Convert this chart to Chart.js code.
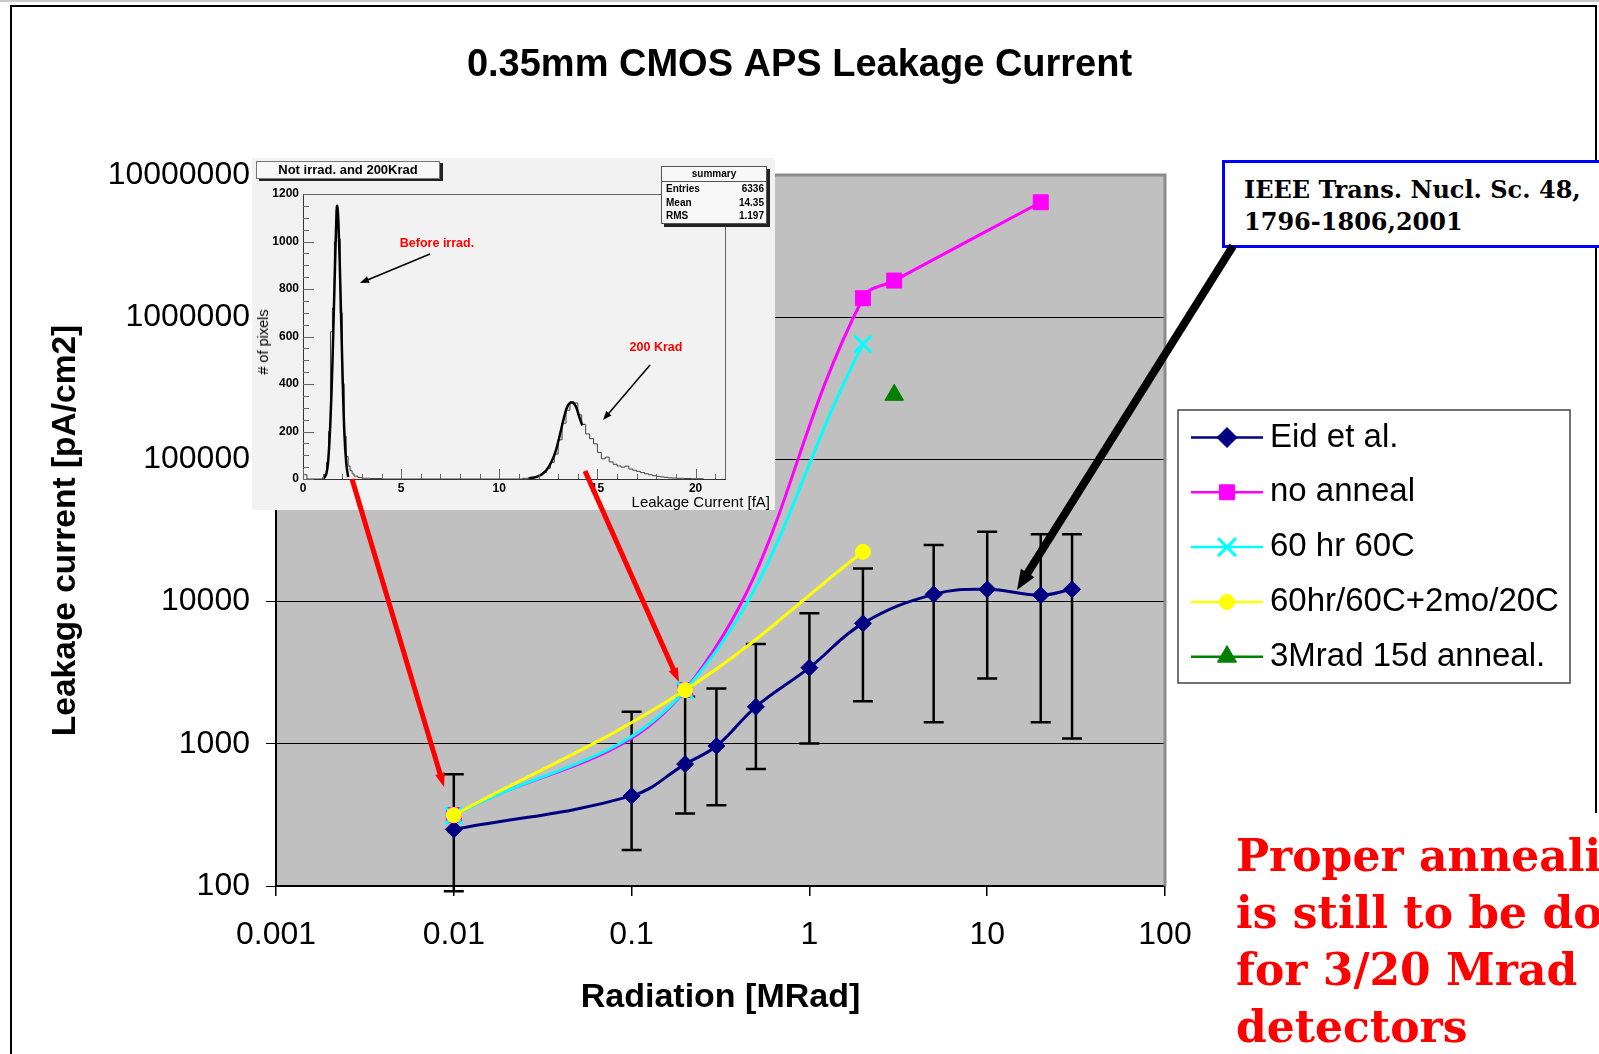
<!DOCTYPE html>
<html>
<head>
<meta charset="utf-8">
<title>0.35mm CMOS APS Leakage Current</title>
<script src="https://cdn.jsdelivr.net/npm/chart.js@4.4.1/dist/chart.umd.min.js"></script>
<style>
  html, body { margin: 0; padding: 0; background: #fff; overflow: hidden; }
  #page { position: relative; width: 1599px; height: 1054px; overflow: hidden; font-family: 'Liberation Sans', Arial, sans-serif; }
  #main { position: absolute; left: 0; top: 0; }
  #topRule { position: absolute; left: 0; top: 0; width: 1599px; height: 2px; background: #c8c8c8; }
  #frame { position: absolute; left: 10px; top: 5px; width: 1585px; height: 806px; border-top: 2px solid #000; border-right: 2px solid #000; }
  #frameLeft { position: absolute; left: 10px; top: 5px; width: 2px; height: 1049px; background: #000; }

  /* inset histogram */
  #inset { position: absolute; left: 252px; top: 158px; width: 523px; height: 352px; background: #f2f2f2; }
  #histo { position: absolute; left: 0; top: 0; }
  #histTitle { position: absolute; left: 4px; top: 3px; width: 184px; height: 18px; box-sizing: border-box; border: 1px solid #777; background: #f8f8f8; box-shadow: 3px 2px 0 #222; font: bold 13px 'Liberation Sans', Arial, sans-serif; line-height: 16px; text-align: center; }
  #stats { position: absolute; left: 409px; top: 8px; width: 106px; height: 58px; box-sizing: border-box; border: 1px solid #555; background: #f8f8f8; box-shadow: 3px 3px 0 #222; font: bold 10px 'Liberation Sans', Arial, sans-serif; }
  #stats .hd { height: 14px; line-height: 14px; text-align: center; border-bottom: 1px solid #555; }
  #stats .row { height: 13.5px; line-height: 13.5px; padding: 0 2px 0 4px; display: flex; justify-content: space-between; }
  .redlab { position: absolute; color: #ff0000; font: bold 12.5px 'Liberation Sans', Arial, sans-serif; white-space: nowrap; transform: translate(-50%, -50%); }
  #histXTitle { position: absolute; right: 5px; top: 335px; font: 15px 'Liberation Sans', Arial, sans-serif; white-space: nowrap; }
  #histYTitle { position: absolute; left: 11px; top: 184px; font: 14.5px 'Liberation Sans', Arial, sans-serif; white-space: nowrap; transform: translate(-50%, -50%) rotate(-90deg); }

  /* annotations */
  #ref { position: absolute; left: 1222px; top: 160px; width: 400px; height: 88px; box-sizing: border-box; border: 3px solid #0000ff; background: #fff; padding: 11px 0 0 19px; font: bold 24px 'DejaVu Serif', serif; line-height: 32px; color: #000; white-space: nowrap; }
  #note { position: absolute; left: 1236px; top: 827px; font: bold 44px 'DejaVu Serif', serif; line-height: 57px; color: #ff0000; white-space: nowrap; }
  #arrows { position: absolute; left: 0; top: 0; pointer-events: none; }
</style>
</head>
<body>
<div id="page">
  <div id="topRule"></div>
  <div id="frame"></div>
  <div id="frameLeft"></div>
  <canvas id="main" width="1599" height="1054"></canvas>

  <div id="inset">
    <canvas id="histo" width="523" height="352"></canvas>
    <div id="histTitle">Not irrad. and 200Krad</div>
    <div id="stats">
      <div class="hd">summary</div>
      <div class="row"><span>Entries</span><span>6336</span></div>
      <div class="row"><span>Mean</span><span>14.35</span></div>
      <div class="row"><span>RMS</span><span>1.197</span></div>
    </div>
    <div class="redlab" style="left:185px; top:85px;">Before irrad.</div>
    <div class="redlab" style="left:404px; top:189px;">200 Krad</div>
    <div id="histXTitle">Leakage Current [fA]</div>
    <div id="histYTitle"># of pixels</div>
  </div>

  <div id="ref">IEEE Trans. Nucl. Sc. 48,<br>1796-1806,2001</div>
  <div id="note">Proper annealing<br>is still to be done<br>for 3/20 Mrad<br>detectors</div>

  <svg id="arrows" width="1599" height="1054"></svg>
</div>

<script>
//DATOS - main chart
const xTicks = [0.001, 0.01, 0.1, 1, 10, 100];
const yTicks = [100, 1000, 10000, 100000, 1000000, 10000000];

const doseEid = [0.01, 0.1, 0.2, 0.3, 0.5, 1, 2, 5, 10, 20, 30];
const leakEid = [250, 430, 720, 965, 1820, 3430, 7030, 11250, 12200, 11100, 12200];
const errHiEid = [610, 1680, 2140, 2450, 5030, 8270, 17100, 25000, 31000, 29700, 29700];
const errLoEid = [92, 179, 324, 369, 665, 1005, 1990, 1420, 2880, 1420, 1090];

const doseNoAnneal = [0.01, 0.2, 2, 3, 20];
const leakNoAnneal = [315, 2390, 1360000, 1810000, 6430000];

const dose60C = [0.01, 0.2, 2];
const leak60C = [312, 2380, 647000];

const dose2mo = [0.01, 0.2, 2];
const leak2mo = [315, 2387, 22400];

const dose15d = [3];
const leak15d = [284000];

//DATOS - inset histogram
const histXTickVals = [0, 5, 10, 15, 20];
const histYTickVals = [0, 200, 400, 600, 800, 1000, 1200];
const histEdges = [0, 0.2, 1.0, 1.1, 1.2, 1.3, 1.4, 1.5, 1.6, 1.7, 1.8, 1.9, 2.0, 2.1, 2.2, 2.3, 2.4, 2.5, 2.6, 2.8, 3.0, 3.4, 4.0,
  11.2, 11.6, 11.8, 12.0, 12.2, 12.4, 12.6, 12.8, 13.0, 13.2, 13.4, 13.6, 13.8, 14.0, 14.2, 14.4, 14.6, 14.8, 15.0, 15.2, 15.4,
  15.6, 15.8, 16.0, 16.2, 16.4, 16.6, 16.8, 17.0, 17.2, 17.4, 17.6, 17.8, 18.0, 18.2, 18.4, 18.6, 18.8, 19.0, 19.4, 19.8, 20.4];
const histCounts = [18, 0, 6, 20, 70, 200, 620, 720, 1000, 1130, 1010, 700, 400, 180, 95, 55, 35, 22, 12, 6, 3, 2, 0,
  3, 6, 10, 16, 27, 45, 70, 105, 165, 235, 290, 325, 320, 270, 230, 190, 170, 148, 112, 85, 92,
  72, 62, 55, 50, 54, 42, 37, 32, 27, 22, 18, 14, 11, 9, 7, 5, 4, 3, 2, 1, 0];
const fitBeforeX = [1.05, 1.2, 1.3, 1.4, 1.5, 1.6, 1.7, 1.74, 1.8, 1.9, 2.0, 2.1, 2.2, 2.3];
const fitBeforeY = [0, 25, 95, 250, 490, 800, 1100, 1150, 1090, 820, 490, 210, 70, 8];
const fitAfterX = [11.5, 12.0, 12.4, 12.7, 12.9, 13.1, 13.3, 13.5, 13.72, 13.9, 14.1, 14.23];
const fitAfterY = [2, 12, 37, 80, 125, 190, 260, 310, 322, 305, 255, 226];

function puntos(xs, ys) {
  return xs.map((x, i) => ({ x: x, y: ys[i] }));
}

Chart.defaults.font.family = "'Liberation Sans', Arial, sans-serif";
Chart.defaults.color = "#000";

//PLUGINS
const plotFrame = {
  id: "plotFrame",
  beforeDraw(chart) {
    const { ctx, chartArea: a } = chart;
    ctx.save();
    ctx.fillStyle = "#c0c0c0";
    ctx.fillRect(a.left, a.top, a.right - a.left, a.bottom - a.top);
    ctx.restore();
  },
  beforeDatasetsDraw(chart) {
    const { ctx, chartArea: a } = chart;
    ctx.save();
    ctx.strokeStyle = "#8c8c8c";
    ctx.lineWidth = 3;
    ctx.beginPath();
    ctx.moveTo(a.left, a.top);
    ctx.lineTo(a.right, a.top);
    ctx.lineTo(a.right, a.bottom);
    ctx.stroke();
    ctx.restore();
  },
};

// barras de error de Eid et al. (debajo de los marcadores)
const errorBars = {
  id: "errorBars",
  beforeDatasetDraw(chart, args) {
    if (args.index !== 0) return;
    const { ctx, scales } = chart;
    ctx.save();
    ctx.strokeStyle = "#000";
    ctx.lineWidth = 2.5;
    doseEid.forEach((d, i) => {
      const px = scales.x.getPixelForValue(d);
      const yt = scales.y.getPixelForValue(errHiEid[i]);
      const yb = scales.y.getPixelForValue(errLoEid[i]);
      ctx.beginPath();
      ctx.moveTo(px, yt);
      ctx.lineTo(px, yb);
      ctx.moveTo(px - 10, yt);
      ctx.lineTo(px + 10, yt);
      ctx.moveTo(px - 10, yb);
      ctx.lineTo(px + 10, yb);
      ctx.stroke();
    });
    ctx.restore();
  },
};

// leyenda estilo Excel (linea + marcador)
const legendRadius = [10, 10.6, 12.7, 7.5, 11];
const excelLegend = {
  id: "excelLegend",
  afterDraw(chart) {
    const ctx = chart.ctx;
    ctx.save();
    ctx.fillStyle = "#fff";
    ctx.fillRect(1178, 410, 392, 273);
    ctx.strokeStyle = "#444";
    ctx.lineWidth = 1.5;
    ctx.strokeRect(1178, 410, 392, 273);
    chart.data.datasets.forEach((ds, i) => {
      const cy = 437.5 + i * 54.8;
      ctx.strokeStyle = ds.borderColor;
      ctx.lineWidth = 2.5;
      ctx.beginPath();
      ctx.moveTo(1191, cy);
      ctx.lineTo(1263, cy);
      ctx.stroke();
      ctx.fillStyle = ds.pointBackgroundColor;
      ctx.strokeStyle = ds.pointBorderColor;
      ctx.lineWidth = ds.pointBorderWidth;
      Chart.helpers.drawPoint(ctx, {
        pointStyle: ds.pointStyle,
        radius: legendRadius[i],
        rotation: 0,
        borderWidth: ds.pointBorderWidth,
      }, 1227, cy);
      ctx.fillStyle = "#000";
      ctx.font = "33px 'Liberation Sans', Arial, sans-serif";
      ctx.textBaseline = "middle";
      ctx.textAlign = "left";
      ctx.fillText(ds.label, 1270, cy);
    });
    ctx.restore();
  },
};

//GRAFICO PRINCIPAL
const mainConfig = {
  type: "line",
  data: {
    datasets: [
      {
        label: "Eid et al.",
        data: puntos(doseEid, leakEid),
        borderColor: "#000080",
        borderWidth: 3,
        pointStyle: "rectRot",
        pointRadius: 8.5,
        pointBackgroundColor: "#000080",
        pointBorderColor: "#000080",
        pointBorderWidth: 1,
        tension: 0.4,
        order: 5,
      },
      {
        label: "no anneal",
        data: puntos(doseNoAnneal, leakNoAnneal),
        borderColor: "#ff00ff",
        borderWidth: 3,
        pointStyle: "rect",
        pointRadius: 10.6,
        pointBackgroundColor: "#ff00ff",
        pointBorderColor: "#ff00ff",
        pointBorderWidth: 1,
        tension: 0.4,
        order: 4,
      },
      {
        label: "60 hr 60C",
        data: puntos(dose60C, leak60C),
        borderColor: "#00ffff",
        borderWidth: 3,
        pointStyle: "crossRot",
        pointRadius: 12,
        pointBackgroundColor: "#00ffff",
        pointBorderColor: "#00ffff",
        pointBorderWidth: 3,
        tension: 0.4,
        order: 3,
      },
      {
        label: "60hr/60C+2mo/20C",
        data: puntos(dose2mo, leak2mo),
        borderColor: "#ffff00",
        borderWidth: 3,
        pointStyle: "circle",
        pointRadius: 7.5,
        pointBackgroundColor: "#ffff00",
        pointBorderColor: "#ffff00",
        pointBorderWidth: 1,
        tension: 0.4,
        order: 2,
      },
      {
        label: "3Mrad 15d anneal.",
        data: puntos(dose15d, leak15d),
        borderColor: "#008000",
        borderWidth: 3,
        showLine: false,
        pointStyle: "triangle",
        pointRadius: 10.8,
        pointBackgroundColor: "#008000",
        pointBorderColor: "#008000",
        pointBorderWidth: 1,
        order: 1,
      },
    ],
  },
  options: {
    responsive: false,
    animation: false,
    devicePixelRatio: 1,
    events: [],
    layout: { padding: 0 },
    plugins: {
      legend: { display: false },
      tooltip: { enabled: false },
      title: {
        display: true,
        text: "0.35mm CMOS APS Leakage Current",
        color: "#000",
        font: { size: 38, weight: "bold" },
        padding: { top: 43.2, bottom: 86.2 },
      },
    },
    scales: {
      x: {
        type: "logarithmic",
        position: "bottom",
        min: 0.001,
        max: 100,
        afterBuildTicks: (s) => { s.ticks = xTicks.map((v) => ({ value: v })); },
        afterFit: (s) => { s.height = 168; },
        ticks: {
          callback: (v) => String(v),
          font: { size: 32 },
          padding: 20,
          maxRotation: 0,
          autoSkip: false,
        },
        grid: { drawOnChartArea: false, color: "#000", lineWidth: 1.5, tickLength: 10 },
        border: { color: "#000", width: 2 },
        title: {
          display: true,
          text: "Radiation [MRad]",
          font: { size: 34, weight: "bold" },
          padding: { top: 0, bottom: 35.6 },
        },
      },
      y: {
        type: "logarithmic",
        min: 100,
        max: 10000000,
        afterBuildTicks: (s) => { s.ticks = yTicks.map((v) => ({ value: v })); },
        afterFit: (s) => { s.width = 276; },
        ticks: {
          callback: (v) => String(v),
          font: { size: 32 },
          padding: 16,
          autoSkip: false,
        },
        grid: { color: "#000", lineWidth: 1, tickLength: 10 },
        border: { color: "#000", width: 2 },
        title: {
          display: true,
          text: "Leakage current [pA/cm2]",
          font: { size: 33.5, weight: "bold" },
          padding: { top: 46, bottom: 0 },
        },
      },
      // eje vacio a la derecha: reserva el hueco de la leyenda y las notas
      margen: {
        type: "linear",
        position: "right",
        afterFit: (s) => { s.width = 434; },
        ticks: { display: false },
        grid: { display: false, drawTicks: false },
        border: { display: false },
      },
    },
  },
  plugins: [plotFrame, errorBars, excelLegend],
};
const mainChart = new Chart(document.getElementById("main"), mainConfig);

//HISTOGRAMA (inserto)
const insetTicks = {
  id: "insetTicks",
  afterDraw(chart) {
    const { ctx, chartArea: a, scales } = chart;
    ctx.save();
    ctx.strokeStyle = "#666";
    ctx.lineWidth = 1;
    ctx.beginPath();
    ctx.moveTo(a.left, a.top + 0.5);
    ctx.lineTo(a.right + 0.5, a.top + 0.5);
    ctx.lineTo(a.right + 0.5, a.bottom);
    for (let v = 0; v <= 21; v++) {
      const px = Math.round(scales.x.getPixelForValue(v)) + 0.5;
      const len = v % 5 === 0 ? 10 : 5;
      ctx.moveTo(px, a.bottom);
      ctx.lineTo(px, a.bottom - len);
    }
    for (let v = 0; v <= 1200; v += 50) {
      const py = Math.round(scales.y.getPixelForValue(v)) + 0.5;
      const len = v % 200 === 0 ? 11 : 6;
      ctx.moveTo(a.left, py);
      ctx.lineTo(a.left + len, py);
    }
    ctx.stroke();
    ctx.restore();
  },
};

const histChart = new Chart(document.getElementById("histo"), {
  type: "line",
  data: {
    datasets: [
      { label: "fit before", data: puntos(fitBeforeX, fitBeforeY), borderColor: "#000", borderWidth: 2.5, pointRadius: 0, tension: 0.4 },
      { label: "fit 200 Krad", data: puntos(fitAfterX, fitAfterY), borderColor: "#000", borderWidth: 2.5, pointRadius: 0, tension: 0.4 },
      { label: "pixels", data: puntos(histEdges, histCounts), borderColor: "#444", borderWidth: 1, pointRadius: 0, stepped: "before" },
    ],
  },
  options: {
    responsive: false,
    animation: false,
    devicePixelRatio: 1,
    events: [],
    layout: { padding: { left: 0, right: 50, top: 36, bottom: 0 } },
    plugins: { legend: { display: false }, tooltip: { enabled: false } },
    scales: {
      x: {
        type: "linear",
        min: 0,
        max: 21.5,
        afterBuildTicks: (s) => { s.ticks = histXTickVals.map((v) => ({ value: v })); },
        afterFit: (s) => { s.height = 31; },
        ticks: { callback: (v) => String(v), font: { size: 12, weight: "bold" }, padding: 2, maxRotation: 0, autoSkip: false },
        grid: { display: false, drawTicks: false },
        border: { display: true, color: "#333", width: 1 },
      },
      y: {
        type: "linear",
        min: 0,
        max: 1200,
        afterBuildTicks: (s) => { s.ticks = histYTickVals.map((v) => ({ value: v })); },
        afterFit: (s) => { s.width = 51; },
        ticks: { callback: (v) => String(v), font: { size: 12, weight: "bold" }, padding: 4, autoSkip: false },
        grid: { display: false, drawTicks: false },
        border: { display: true, color: "#333", width: 1 },
      },
    },
  },
  plugins: [insetTicks],
});

//FLECHAS
const svg = document.getElementById("arrows");
function flecha(x1, y1, x2, y2, color, ancho, largo, medio) {
  const dx = x2 - x1, dy = y2 - y1, L = Math.hypot(dx, dy);
  const ux = dx / L, uy = dy / L;
  const bx = x2 - ux * largo, by = y2 - uy * largo;
  const ns = "http://www.w3.org/2000/svg";
  const ln = document.createElementNS(ns, "line");
  ln.setAttribute("x1", x1); ln.setAttribute("y1", y1);
  ln.setAttribute("x2", bx + ux); ln.setAttribute("y2", by + uy);
  ln.setAttribute("stroke", color); ln.setAttribute("stroke-width", ancho);
  svg.appendChild(ln);
  const pg = document.createElementNS(ns, "polygon");
  pg.setAttribute("points", `${x2},${y2} ${bx - uy * medio},${by + ux * medio} ${bx + uy * medio},${by - ux * medio}`);
  pg.setAttribute("fill", color);
  svg.appendChild(pg);
}
flecha(352, 479, 444, 787, "#ff0000", 5, 14, 5);
flecha(585, 471, 679, 682, "#ff0000", 5, 14, 5);
flecha(1233, 246, 1017, 590, "#000", 8, 20, 8);
flecha(430, 254, 360, 283, "#000", 1.5, 9, 3.5);
flecha(650, 365, 603, 420, "#000", 1.5, 9, 3.5);
</script>
</body>
</html>
